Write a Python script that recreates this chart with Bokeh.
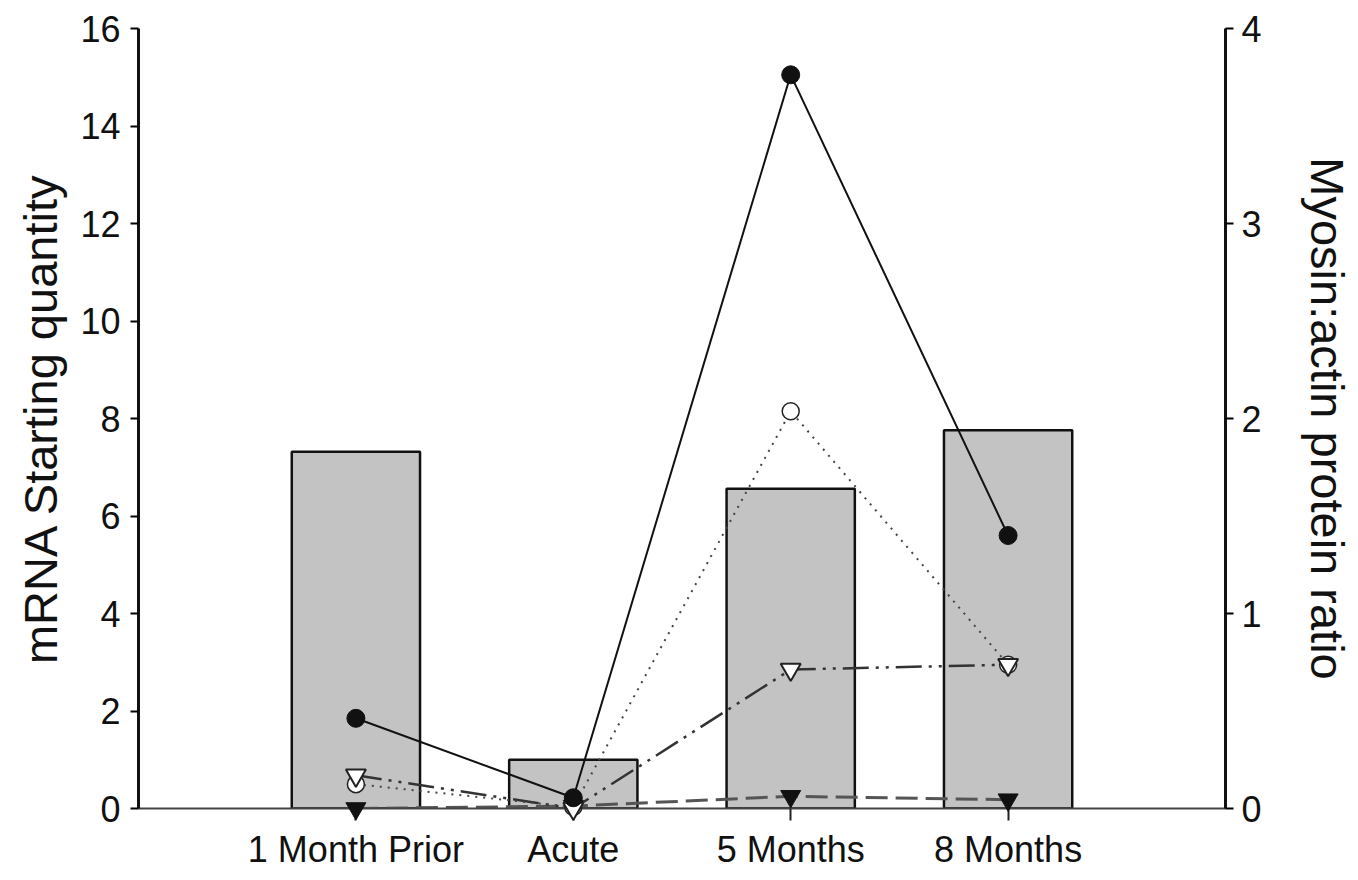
import math
from bokeh.plotting import figure
from bokeh.models import Range1d, LinearAxis, FixedTicker, ColumnDataSource
from bokeh.embed import file_html
from bokeh.resources import INLINE

# ---- data ----
categories = ["1 Month Prior", "Acute", "5 Months", "8 Months"]
xpos = [1, 2, 3, 4]
protein_ratio = [1.83, 0.25, 1.64, 1.94]          # bars, right axis
mrna_a = [1.85, 0.22, 15.05, 5.6]                 # solid, filled circle
mrna_b = [0.5, 0.03, 8.15, 2.95]                  # dotted, open circle
mrna_c = [0.68, 0.0, 2.85, 2.95]                  # dash-dot-dot, open inverted triangle
mrna_d = [0.0, 0.05, 0.25, 0.18]                  # dashed, filled inverted triangle
left_ticks = [0, 2, 4, 6, 8, 10, 12, 14, 16]
right_ticks = [0, 1, 2, 3, 4]
right_title = "Myosin:actin protein ratio"

FONT = "Liberation Sans"

p = figure(width=1356, height=872, x_range=Range1d(0, 5), y_range=Range1d(0, 16),
           output_backend="svg", toolbar_location=None,
           min_border_left=138, min_border_right=128, min_border_top=28, min_border_bottom=64)
p.outline_line_color = None
p.grid.visible = False
p.extra_y_ranges = {"right": Range1d(0, 4)}

# x axis
xa = p.xaxis[0]
xa.ticker = FixedTicker(ticks=xpos)
xa.major_label_overrides = {x: c for x, c in zip(xpos, categories)}
xa.axis_line_color = "#444444"
xa.axis_line_width = 2
xa.major_tick_in = 0
xa.major_tick_out = 12
xa.major_tick_line_width = 2
xa.major_tick_line_color = "#222222"
xa.minor_tick_line_color = None
xa.major_label_text_font = FONT
xa.major_label_text_font_size = "36px"
xa.major_label_text_color = "#111111"
xa.major_label_standoff = 8

# left axis
ya = p.yaxis[0]
ya.ticker = FixedTicker(ticks=left_ticks)
ya.axis_label = "mRNA Starting quantity"
ya.axis_line_width = 3
ya.axis_line_color = "#111111"
ya.major_tick_in = 0
ya.major_tick_out = 8
ya.major_tick_line_width = 2
ya.minor_tick_line_color = None
ya.major_label_text_font = FONT
ya.major_label_text_font_size = "36px"
ya.major_label_text_color = "#111111"
ya.major_label_standoff = 10
ya.axis_label_text_font = FONT
ya.axis_label_text_font_size = "47px"
ya.axis_label_text_font_style = "normal"
ya.axis_label_text_color = "#111111"
ya.axis_label_standoff = 10

# right axis
ra = LinearAxis(y_range_name="right", ticker=FixedTicker(ticks=right_ticks),
                axis_label=right_title)
ra.axis_line_width = 3
ra.axis_line_color = "#111111"
ra.major_tick_in = 0
ra.major_tick_out = 8
ra.major_tick_line_width = 2
ra.minor_tick_line_color = None
ra.major_label_text_font = FONT
ra.major_label_text_font_size = "36px"
ra.major_label_text_color = "#111111"
ra.major_label_standoff = 8
ra.axis_label_text_font = FONT
ra.axis_label_text_font_size = "47px"
ra.axis_label_text_font_style = "normal"
ra.axis_label_text_color = "#111111"
ra.axis_label_standoff = 36
p.add_layout(ra, "right")

# bars
bar_src = ColumnDataSource(dict(x=xpos, top=protein_ratio))
p.vbar(x="x", top="top", bottom=0, width=0.59, source=bar_src, y_range_name="right",
       fill_color="#c3c3c3", line_color="#111111", line_width=2.5)

# lines
p.line(xpos, mrna_d, line_color="#555555", line_width=3, line_dash="22 8")
p.line(xpos, mrna_c, line_color="#333333", line_width=2.5, line_dash="26 7 3 7 3 7")
p.line(xpos, mrna_b, line_color="#444444", line_width=2, line_dash="2 6")
p.line(xpos, mrna_a, line_color="#111111", line_width=2)

# markers (drawn unclipped)
r1 = p.scatter(xpos, mrna_d, marker="inverted_triangle", size=20, fill_color="#111111", line_color="#111111")
r2 = p.scatter(xpos, mrna_b, marker="circle", size=17, fill_color="white", line_color="#222222", line_width=1.5)
r3 = p.scatter(xpos, mrna_c, marker="inverted_triangle", size=20, fill_color="white", line_color="#222222", line_width=2)
r4 = p.scatter(xpos, mrna_a, marker="circle", size=18, fill_color="#111111", line_color="#111111")
for r in (r1, r2, r3, r4):
    r.level = "annotation"

open("out.html", "w").write(file_html(p, INLINE))
